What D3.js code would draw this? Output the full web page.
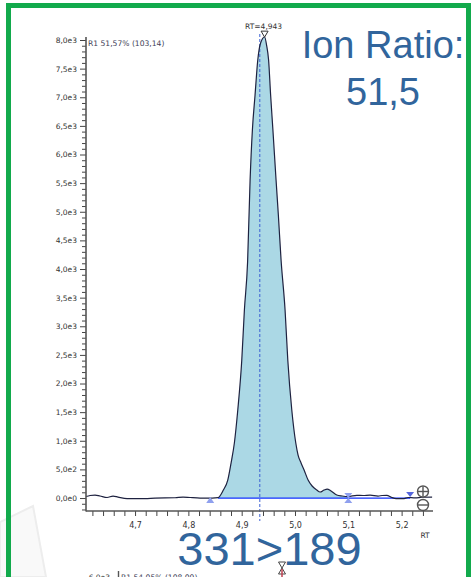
<!DOCTYPE html>
<html>
<head>
<meta charset="utf-8">
<script src="https://cdn.jsdelivr.net/npm/d3@7"></script>
<style>
  html, body { margin: 0; padding: 0; background: #ffffff; }
  svg { display: block; }
</style>
</head>
<body>
<svg id="chart" width="471" height="577"></svg>
<script>
// Retention time (min) of each sampled point of the 331>189 trace
const retentionTimes = [
  4.608, 4.6156, 4.625, 4.6343, 4.6475, 4.6587, 4.6681, 4.685, 4.7188, 4.7375,
  4.775, 4.79, 4.8032, 4.822, 4.8445, 4.8557,
  4.8657, 4.8739, 4.8801, 4.8863, 4.8927, 4.9002, 4.9051, 4.9111, 4.9158, 4.9201,
  4.9251, 4.9302, 4.9355, 4.943, 4.9467, 4.9505, 4.9543, 4.9586, 4.9645, 4.9688,
  4.9739, 4.9814, 4.9865, 4.994, 5.0015, 5.0058, 5.0114, 5.0171, 5.0246, 5.0321,
  5.0409, 5.0471, 5.0546, 5.0602, 5.0677, 5.0784, 5.0884, 5.0996, 5.1159, 5.1278,
  5.1409, 5.1559, 5.1634, 5.1722, 5.1816, 5.1897, 5.2028, 5.2122, 5.2253, 5.2385, 5.2572
];
// Intensity (counts) at each retention time
const intensities = [
  26, 44, 52, 35, 9, 35, 17, -9, -9, 0,
  5, 17, 9, 0, 0, 7,
  140, 314, 611, 961, 1537, 2410, 3284, 4122, 5554, 6428,
  7039, 7650, 7947, 8052, 7912, 7650, 7039, 6428, 5554, 4943,
  4157, 3284, 2410, 1537, 961, 751, 611, 489, 314, 210,
  140, 105, 140, 157, 122, 52, 35, 26, 47, 44,
  52, 35, 44, 47, 9, -9, -10, 9, 3, 14, 17
];

// Peak annotations
const apexRT = 4.943;
const expectedRT = 4.934;
const integrationStart = 4.8557;
const integrationEnd = 5.1;
const peakStartMarker = 4.841;
const baselineEnd = 5.216;
const ratioLabel = "R1 51,57% (103,14)";
const ionRatioTitle = "Ion Ratio:";
const ionRatioValue = "51,5";
const transitionLabel = "331>189";

// Axis ticks
const yMajorTicks = d3.range(0, 8001, 500);
const yMinorTicks = d3.range(-200, 8001, 100).filter(v => v % 500 !== 0);
const xMajorTicks = [4.7, 4.8, 4.9, 5.0, 5.1, 5.2];
const xMinorTicks = d3.range(4.62, 5.25, 0.02).map(v => +v.toFixed(2));

const trace = retentionTimes.map((t, i) => ({ t, v: intensities[i] }));

const svg = d3.select("#chart");
const steel = "#31659c";
const small = "DejaVu Sans, Verdana, sans-serif";

const x = d3.scaleLinear().domain([4.608, 5.257]).range([86, 432]);
const y = d3.scaleLinear().domain([-230, 8000]).range([511.2, 40]);

// faint background sheet in the lower-left corner
svg.append("polygon")
  .attr("points", "0,522 33,506 46,577 0,577")
  .attr("fill", "#f9f9f9")
  .attr("stroke", "#ededed")
  .attr("stroke-width", 2);

// green frame
svg.append("rect")
  .attr("x", 8.5).attr("y", 5.5)
  .attr("width", 460).attr("height", 620)
  .attr("fill", "none")
  .attr("stroke", "#12aa4c")
  .attr("stroke-width", 5);

// integrated area
svg.append("clipPath").attr("id", "integ")
  .append("rect")
  .attr("x", x(integrationStart)).attr("y", 0)
  .attr("width", x(integrationEnd) - x(integrationStart))
  .attr("height", 577);

const area = d3.area()
  .x(d => x(d.t)).y0(y(0)).y1(d => y(Math.max(0, d.v)))
  .curve(d3.curveMonotoneX);

svg.append("path")
  .datum(trace)
  .attr("clip-path", "url(#integ)")
  .attr("fill", "#abd8e5")
  .attr("d", area);

// baseline of the integration
svg.append("line")
  .attr("x1", x(integrationStart)).attr("x2", x(baselineEnd))
  .attr("y1", y(0)).attr("y2", y(0))
  .attr("stroke", "#1030ff").attr("stroke-width", 1.3);

// expected retention time
svg.append("line")
  .attr("x1", x(expectedRT)).attr("x2", x(expectedRT))
  .attr("y1", 34).attr("y2", 521)
  .attr("stroke", "#3d62d4").attr("stroke-width", 1)
  .attr("stroke-dasharray", "3,2");

// chromatogram trace
const line = d3.line().x(d => x(d.t)).y(d => y(d.v)).curve(d3.curveMonotoneX);
svg.append("path")
  .datum(trace)
  .attr("fill", "none")
  .attr("stroke", "#1e2240")
  .attr("stroke-width", 1.2)
  .attr("d", line);

// Y axis: minor ticks (no labels), then labelled major ticks
const fmtY = v => d3.format(".1e")(v).replace(".", ",").replace("+", "");
const yAxis = svg.append("g").attr("transform", "translate(86,0)");
yAxis.append("g").call(d3.axisLeft(y).tickValues(yMinorTicks).tickSize(4).tickFormat(""))
  .selectAll("text").remove();
yAxis.append("g").call(d3.axisLeft(y).tickValues(yMajorTicks).tickSize(6).tickPadding(3).tickFormat(fmtY));
yAxis.selectAll(".domain").remove();
yAxis.selectAll("line").attr("stroke", "#444");
yAxis.selectAll("text")
  .attr("font-family", small)
  .attr("font-size", 7.5).attr("fill", "#333");
svg.append("line")
  .attr("x1", 86).attr("x2", 86).attr("y1", 37).attr("y2", 511.5)
  .attr("stroke", "#555").attr("stroke-width", 1.6);

// X axis: minor ticks (no labels), then labelled major ticks
const xAxis = svg.append("g").attr("transform", "translate(0,511)");
xAxis.append("g").call(d3.axisBottom(x).tickValues(xMinorTicks.filter(v => !xMajorTicks.some(m => Math.abs(m - v) < 1e-6)))
  .tickSize(5).tickFormat(""))
  .selectAll("text").remove();
xAxis.append("g").call(d3.axisBottom(x).tickValues(xMajorTicks).tickSize(5).tickPadding(6)
  .tickFormat(v => d3.format(".1f")(v).replace(".", ",")));
xAxis.selectAll(".domain").remove();
xAxis.selectAll("line").attr("stroke", "#444");
xAxis.selectAll("text")
  .attr("font-family", small)
  .attr("font-size", 8).attr("fill", "#333");
svg.append("line")
  .attr("x1", 86).attr("x2", 433).attr("y1", 511).attr("y2", 511)
  .attr("stroke", "#555").attr("stroke-width", 1.6);

svg.append("text")
  .attr("x", 425).attr("y", 538)
  .attr("text-anchor", "middle")
  .attr("font-family", small)
  .attr("font-size", 7.5).attr("fill", "#333")
  .text("RT");

// ratio annotation
svg.append("text")
  .attr("x", 88).attr("y", 46)
  .attr("font-family", small)
  .attr("font-size", 7.6).attr("fill", "#3c3c55")
  .text(ratioLabel);

// apex marker and label
const ax = x(apexRT), ay = y(8050);
svg.append("path")
  .attr("d", `M${ax - 3.5},${ay - 6} L${ax + 3.5},${ay - 6} L${ax},${ay} Z`)
  .attr("fill", "#ffffff").attr("stroke", "#333").attr("stroke-width", 1);
svg.append("text")
  .attr("x", ax - 1).attr("y", 29)
  .attr("text-anchor", "middle")
  .attr("font-family", small)
  .attr("font-size", 7.5).attr("fill", "#333")
  .text("RT=" + d3.format(".3f")(apexRT).replace(".", ","));

// peak start marker
const sx = x(peakStartMarker), by = y(0);
svg.append("path")
  .attr("d", `M${sx - 4},${by + 5} L${sx + 4},${by + 5} L${sx},${by - 1} Z`)
  .attr("fill", "#8fa0ee");

// peak end marker (hourglass)
const ex = x(integrationEnd);
svg.append("path")
  .attr("d", `M${ex - 4},${by - 5} L${ex + 4},${by - 5} L${ex},${by} Z M${ex - 4},${by + 5} L${ex + 4},${by + 5} L${ex},${by} Z`)
  .attr("fill", "#8fa0ee");
svg.append("line")
  .attr("x1", ex).attr("x2", ex).attr("y1", by - 5).attr("y2", by + 5)
  .attr("stroke", "#8fa0ee").attr("stroke-width", 1);

// baseline end marker
const bx = x(baselineEnd);
svg.append("path")
  .attr("d", `M${bx - 4},${by - 6} L${bx + 4},${by - 6} L${bx},${by - 1} Z`)
  .attr("fill", "#5566dd");

// zoom buttons
const zoomBtn = [{ cy: 491.5, plus: true }, { cy: 505, plus: false }];
zoomBtn.forEach(b => {
  const g = svg.append("g").attr("transform", `translate(423,${b.cy})`);
  g.append("circle").attr("r", 5.5).attr("fill", "#fff").attr("stroke", "#555").attr("stroke-width", 1.4);
  g.append("line").attr("x1", -5).attr("x2", 5).attr("y1", 0).attr("y2", 0).attr("stroke", "#555").attr("stroke-width", 1.4);
  if (b.plus) g.append("line").attr("x1", 0).attr("x2", 0).attr("y1", -5).attr("y2", 5).attr("stroke", "#555").attr("stroke-width", 1.4);
});

// big annotations
const big = "Liberation Sans, Arial, Helvetica, sans-serif";
svg.append("text")
  .attr("x", 383).attr("y", 58)
  .attr("text-anchor", "middle")
  .attr("font-family", big).attr("font-size", 38).attr("fill", steel)
  .text(ionRatioTitle);
svg.append("text")
  .attr("x", 383).attr("y", 105)
  .attr("text-anchor", "middle")
  .attr("font-family", big).attr("font-size", 38).attr("fill", steel)
  .text(ionRatioValue);
svg.append("text")
  .attr("x", 269.5).attr("y", 565)
  .attr("text-anchor", "middle")
  .attr("font-family", big).attr("font-size", 47).attr("fill", steel)
  .text(transitionLabel);

// top of the next chromatogram, running off the bottom edge
svg.append("text")
  .attr("x", 110).attr("y", 580)
  .attr("text-anchor", "end")
  .attr("font-family", small)
  .attr("font-size", 7.5).attr("fill", "#333")
  .text("6,0e3");
svg.append("line")
  .attr("x1", 118.5).attr("x2", 118.5).attr("y1", 571).attr("y2", 577)
  .attr("stroke", "#555").attr("stroke-width", 1.4);
svg.append("text")
  .attr("x", 121).attr("y", 580)
  .attr("font-family", small)
  .attr("font-size", 7.6).attr("fill", "#3c3c55")
  .text("R1 54,05% (108,09)");
const hx = 282;
svg.append("path")
  .attr("d", `M${hx - 3.5},562 L${hx + 3.5},562 L${hx},568 Z M${hx - 3.5},574 L${hx + 3.5},574 L${hx},568 Z`)
  .attr("fill", "#fff").attr("stroke", "#444").attr("stroke-width", 1);
svg.append("line")
  .attr("x1", hx).attr("x2", hx).attr("y1", 569).attr("y2", 577)
  .attr("stroke", "#c04050").attr("stroke-width", 1.5);
</script>
</body>
</html>
